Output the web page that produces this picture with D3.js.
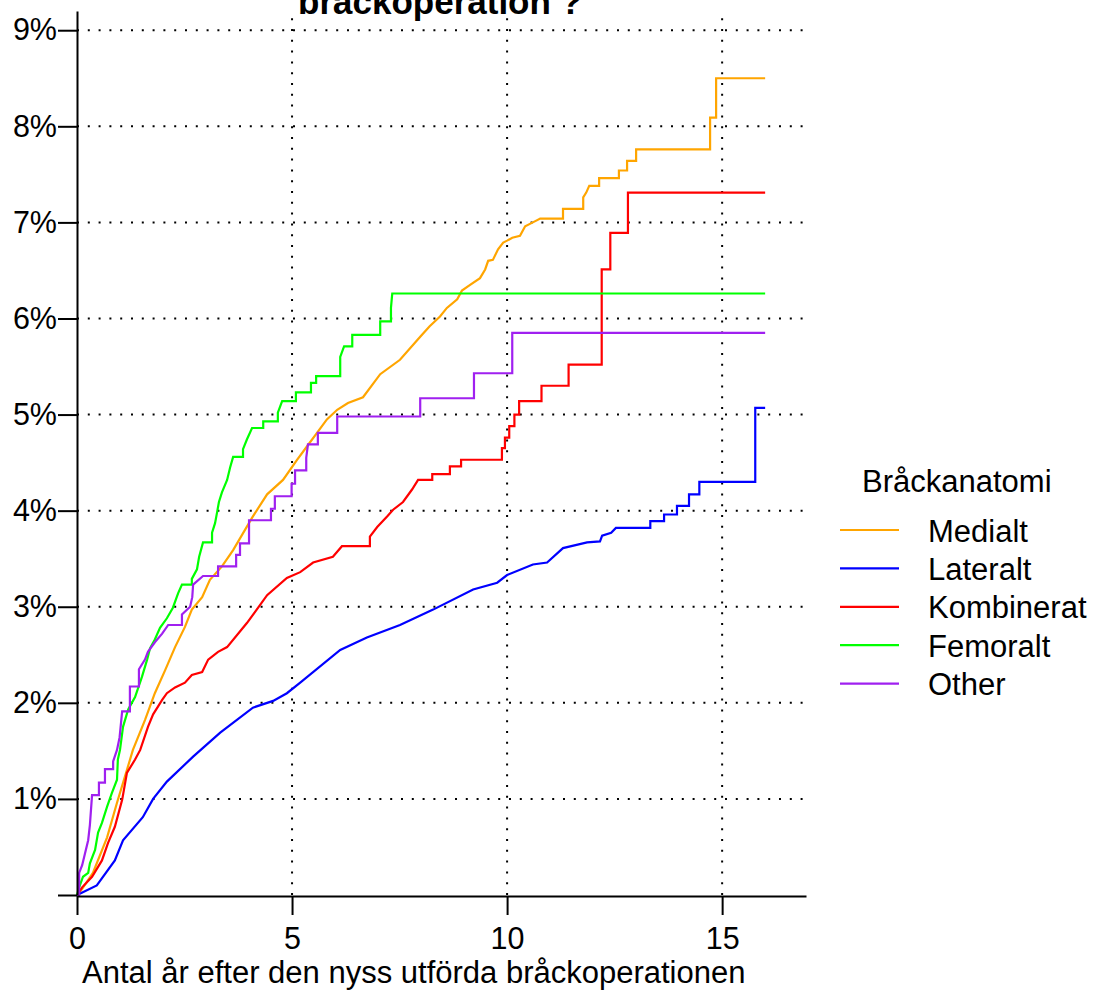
<!DOCTYPE html>
<html><head><meta charset="utf-8">
<script src="https://cdn.jsdelivr.net/npm/d3@7"></script>
<style>
body{margin:0;background:#fff}
text{font-family:"Liberation Sans",Arial,Helvetica,sans-serif;fill:#000}
</style>
</head><body><svg id="chart" width="1095" height="990"></svg>
<script>
// ---- data (years, cumulative %) ----
const seriesNames = ["Medialt","Lateralt","Kombinerat","Femoralt","Other"];
const seriesColors = ["#FFA500","#0000FF","#FF0000","#00FF00","#A020F0"];
const xTickValues = [0,5,10,15];
const yTickValues = [0,1,2,3,4,5,6,7,8,9];
const titleText = "bråckoperation ?";
const xAxisTitle = "Antal år efter den nyss utförda bråckoperationen";
const legendTitle = "Bråckanatomi";

const medialt = [[0,0],[0.10,0.05],[0.37,0.23],[0.70,0.60],[0.93,0.96],[1.16,1.30],[1.30,1.51],[1.58,1.82],[1.81,2.10],[2.05,2.34],[2.28,2.58],[2.51,2.79],[2.67,2.97],[2.91,3.10],[3.09,3.28],[3.37,3.42],[3.63,3.59],[4.09,3.94],[4.42,4.17],[4.79,4.32],[5.12,4.53],[5.35,4.67],[5.58,4.81],[5.81,4.95],[6.05,5.05],[6.30,5.12],[6.65,5.18],[7.05,5.42],[7.51,5.57],[7.98,5.81],[8.20,5.92],[8.44,6.02],[8.60,6.11],[8.84,6.20],[8.95,6.29],[9.14,6.35],[9.37,6.42],[9.49,6.51],[9.56,6.60],[9.67,6.61],[9.79,6.72],[9.91,6.79],[10.0,6.81],[10.12,6.84],[10.30,6.86],[10.42,6.96],[10.60,7.0],[10.77,7.04],[11.30,7.04],[11.30,7.14],[11.77,7.14],[11.77,7.26],[11.84,7.31],[11.91,7.38],[12.14,7.38],[12.14,7.46],[12.60,7.46],[12.60,7.54],[12.79,7.54],[12.79,7.64],[13.0,7.64],[13.0,7.76],[14.72,7.76],[14.72,8.09],[14.86,8.09],[14.86,8.50],[16.0,8.50]];

const lateralt = [[0,0],[0.10,0.02],[0.46,0.10],[0.88,0.36],[1.07,0.57],[1.53,0.81],[1.77,1.0],[2.09,1.18],[2.70,1.44],[3.33,1.69],[4.09,1.95],[4.56,2.02],[4.88,2.10],[5.19,2.21],[6.12,2.55],[6.74,2.68],[7.51,2.81],[8.28,2.97],[9.21,3.18],[9.77,3.25],[10.0,3.33],[10.6,3.44],[10.93,3.46],[11.30,3.61],[11.86,3.67],[12.16,3.68],[12.21,3.74],[12.42,3.77],[12.53,3.82],[13.33,3.82],[13.33,3.89],[13.65,3.89],[13.65,3.96],[13.95,3.96],[13.95,4.05],[14.23,4.05],[14.23,4.17],[14.47,4.17],[14.47,4.30],[15.77,4.30],[15.77,5.07],[16.0,5.07]];

const kombinerat = [[0,0],[0.12,0.08],[0.35,0.19],[0.58,0.36],[0.72,0.54],[0.88,0.71],[1.05,0.99],[1.16,1.27],[1.35,1.41],[1.47,1.51],[1.65,1.75],[1.77,1.88],[1.98,2.03],[2.09,2.10],[2.28,2.16],[2.51,2.21],[2.67,2.29],[2.91,2.32],[3.05,2.45],[3.28,2.53],[3.49,2.58],[3.95,2.83],[4.42,3.12],[4.88,3.30],[5.19,3.36],[5.49,3.46],[5.95,3.52],[6.16,3.63],[6.81,3.63],[6.81,3.73],[6.98,3.83],[7.21,3.94],[7.35,4.01],[7.58,4.09],[7.79,4.22],[7.93,4.32],[8.26,4.32],[8.26,4.38],[8.67,4.38],[8.67,4.46],[8.93,4.46],[8.93,4.53],[9.88,4.53],[9.88,4.65],[9.95,4.65],[9.95,4.76],[10.05,4.76],[10.05,4.88],[10.17,4.88],[10.17,5.0],[10.28,5.0],[10.28,5.14],[10.80,5.14],[10.80,5.30],[11.43,5.30],[11.43,5.52],[12.20,5.52],[12.20,6.51],[12.40,6.51],[12.40,6.89],[12.81,6.89],[12.81,7.31],[16.0,7.31]];

const femoralt = [[0,0],[0.05,0.08],[0.14,0.19],[0.26,0.23],[0.30,0.33],[0.42,0.47],[0.49,0.65],[0.58,0.75],[0.70,0.92],[0.81,1.06],[0.93,1.20],[0.95,1.41],[1.0,1.51],[1.07,1.75],[1.19,1.93],[1.35,2.06],[1.51,2.27],[1.63,2.45],[1.70,2.57],[1.81,2.66],[1.93,2.78],[2.09,2.88],[2.23,2.99],[2.35,3.14],[2.44,3.23],[2.67,3.23],[2.67,3.29],[2.79,3.39],[2.84,3.52],[2.93,3.67],[3.14,3.67],[3.14,3.77],[3.21,3.87],[3.26,3.99],[3.30,4.09],[3.37,4.19],[3.49,4.32],[3.56,4.45],[3.63,4.56],[3.86,4.56],[3.86,4.64],[3.95,4.74],[4.07,4.86],[4.33,4.86],[4.33,4.93],[4.67,4.93],[4.67,5.02],[4.77,5.14],[5.09,5.14],[5.09,5.23],[5.44,5.23],[5.44,5.33],[5.56,5.33],[5.56,5.40],[6.12,5.40],[6.12,5.60],[6.21,5.71],[6.40,5.71],[6.40,5.83],[7.05,5.83],[7.05,5.97],[7.30,5.97],[7.30,6.11],[7.33,6.26],[16.0,6.26]];

const other = [[0,0],[0.05,0],[0.05,0.23],[0.12,0.31],[0.19,0.44],[0.26,0.57],[0.30,0.73],[0.35,1.04],[0.51,1.04],[0.51,1.17],[0.65,1.17],[0.65,1.31],[0.84,1.31],[0.84,1.39],[0.93,1.51],[0.99,1.64],[1.05,1.91],[1.23,1.91],[1.23,2.17],[1.44,2.17],[1.44,2.35],[1.58,2.45],[1.65,2.53],[1.81,2.63],[1.98,2.72],[2.12,2.81],[2.44,2.81],[2.44,2.92],[2.63,3.0],[2.68,3.10],[2.70,3.23],[2.93,3.32],[3.28,3.32],[3.28,3.42],[3.70,3.42],[3.70,3.54],[3.79,3.54],[3.79,3.66],[4.0,3.66],[4.0,3.90],[4.51,3.90],[4.51,4.02],[4.60,4.02],[4.60,4.15],[4.99,4.15],[4.99,4.28],[5.07,4.28],[5.07,4.42],[5.33,4.42],[5.33,4.55],[5.37,4.69],[5.60,4.69],[5.60,4.81],[6.05,4.81],[6.05,4.98],[7.98,4.98],[7.98,5.17],[9.23,5.17],[9.23,5.43],[10.12,5.43],[10.12,5.85],[16.0,5.85]];

const seriesData = [medialt, lateralt, kombinerat, femoralt, other];

// ---- drawing ----
const svg = d3.select("#chart");
const x = d3.scaleLinear().domain([0, 16.95]).range([77, 806]);
const y = d3.scaleLinear().domain([0, 9.2]).range([895, 11]);

// grid
const grid = svg.append("g");
grid.selectAll("line.h").data(yTickValues.filter(d => d > 0)).join("line")
  .attr("x1", x(0)).attr("x2", x(16.95))
  .attr("y1", d => y(d)).attr("y2", d => y(d))
  .attr("stroke", "#000").attr("stroke-width", 2).attr("stroke-dasharray", "2,8.8");
grid.selectAll("line.v").data(xTickValues.filter(d => d > 0)).join("line")
  .attr("class","v")
  .attr("y1", y(0)).attr("y2", y(9.2))
  .attr("x1", d => x(d)).attr("x2", d => x(d))
  .attr("stroke", "#000").attr("stroke-width", 2).attr("stroke-dasharray", "2,8.8");

// lines
const line = d3.line().x(d => x(d[0])).y(d => y(d[1]));
svg.append("g").selectAll("path").data(seriesData).join("path")
  .attr("d", line)
  .attr("fill", "none")
  .attr("stroke", (d, i) => seriesColors[i])
  .attr("stroke-width", 2.2);

// axes
const yAxis = svg.append("g").attr("transform", "translate(77,0)")
  .call(d3.axisLeft(y).tickValues(yTickValues)
    .tickFormat(d => d === 0 ? "" : d + "%")
    .tickSize(19).tickPadding(1).tickSizeOuter(0));
const xAxis = svg.append("g").attr("transform", "translate(0,896)")
  .call(d3.axisBottom(x).tickValues(xTickValues)
    .tickSize(19).tickPadding(12).tickSizeOuter(0));
[yAxis, xAxis].forEach(g => {
  g.selectAll("path,line").attr("stroke", "#000").attr("stroke-width", 2);
  g.selectAll("text").attr("font-size", 30.5).attr("fill", "#000")
    .attr("font-family", "'Liberation Sans', Arial, sans-serif");
});

// title (only the visible second line)
svg.append("text").attr("x", 440).attr("y", 14).attr("text-anchor", "middle")
  .attr("font-size", 35).attr("font-weight", "bold").text(titleText);

// x axis title
svg.append("text").attr("x", 82).attr("y", 983).attr("text-anchor", "start")
  .attr("font-size", 31).text(xAxisTitle);

// legend
const lg = svg.append("g");
lg.append("text").attr("x", 862).attr("y", 492).attr("font-size", 31).text(legendTitle);
const items = lg.selectAll("g.item").data(seriesNames).join("g")
  .attr("transform", (d, i) => `translate(0,${530 + i * 38.4})`);
items.append("line").attr("x1", 840).attr("x2", 899).attr("y1", 0).attr("y2", 0)
  .attr("stroke", (d, i) => seriesColors[i]).attr("stroke-width", 2.2);
items.append("text").attr("x", 928).attr("y", 11.5).attr("font-size", 31).text(d => d);
</script></body></html>
